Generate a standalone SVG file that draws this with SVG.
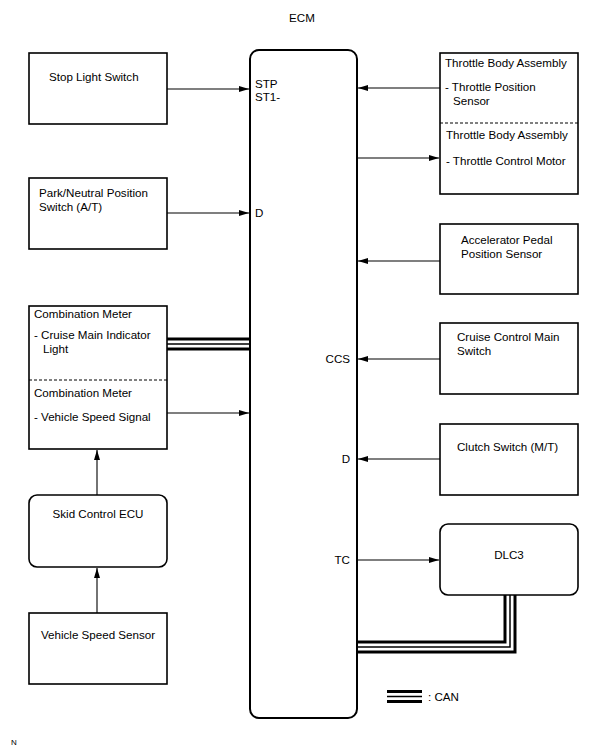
<svg xmlns="http://www.w3.org/2000/svg" width="605" height="749" viewBox="0 0 605 749">
<defs>
<marker id="ah" viewBox="0 0 10 6" refX="10" refY="3" markerWidth="10" markerHeight="6" markerUnits="userSpaceOnUse" orient="auto">
<path d="M0,0 L10,3 L0,6 Z" fill="#000"/>
</marker>
</defs>
<style>
text{font-family:"Liberation Sans",Arial,sans-serif;font-size:11.6px;fill:#000}
.box{fill:#fff;stroke:#000;stroke-width:1.6}
.ecm{fill:#fff;stroke:#000;stroke-width:2}
.wire{fill:none;stroke:#000;stroke-width:1.1;marker-end:url(#ah)}
.dash{stroke:#000;stroke-width:1;stroke-dasharray:3,2}
.c1{fill:none;stroke:#000;stroke-width:13}
.c2{fill:none;stroke:#fff;stroke-width:7}
.c3{fill:none;stroke:#000;stroke-width:1.5}
</style>
<rect width="605" height="749" fill="#fff"/>
<g id="connectors">
<line class="wire" x1="167" y1="89" x2="249" y2="89"/>
<line class="wire" x1="167" y1="213" x2="249" y2="213"/>
<line class="wire" x1="167" y1="413" x2="249" y2="413"/>
<line class="wire" x1="440" y1="88" x2="358" y2="88"/>
<line class="wire" x1="357" y1="158" x2="439" y2="158"/>
<line class="wire" x1="440" y1="261" x2="358" y2="261"/>
<line class="wire" x1="440" y1="359" x2="358" y2="359"/>
<line class="wire" x1="440" y1="459" x2="358" y2="459"/>
<line class="wire" x1="357" y1="560" x2="439" y2="560"/>
<line class="wire" x1="97" y1="495" x2="97" y2="450"/>
<line class="wire" x1="97" y1="613" x2="97" y2="568"/>
<g id="can-meter">
<path class="c1" d="M167,344 H250"/>
<path class="c2" d="M167,344 H250"/>
<path class="c3" d="M167,344 H250"/>
</g>
<g id="can-dlc3">
<path class="c1" d="M357,647 H510 V595"/>
<path class="c2" d="M357,647 H510 V595"/>
<path class="c3" d="M357,647 H510 V595"/>
</g>
<g id="legend">
<path class="c1" d="M387,696.5 H422"/>
<path class="c2" d="M387,696.5 H422"/>
<path class="c3" d="M387,696.5 H422"/>
<text x="428" y="701">: CAN</text>
</g>
</g>
<g id="ecm">
<text x="302" y="22" text-anchor="middle">ECM</text>
<rect class="ecm" x="250" y="50" width="107" height="668" rx="9"/>
<text x="255" y="88">STP</text>
<text x="255" y="101">ST1-</text>
<text x="255" y="217">D</text>
<text x="350" y="363" text-anchor="end">CCS</text>
<text x="350" y="463" text-anchor="end">D</text>
<text x="350" y="564" text-anchor="end">TC</text>
</g>
<g id="stop-light-switch">
<rect class="box" x="29" y="53" width="138" height="71"/>
<text x="49" y="81">Stop Light Switch</text>
</g>
<g id="park-neutral">
<rect class="box" x="29" y="178" width="138" height="71"/>
<text x="39" y="197">Park/Neutral Position</text>
<text x="39" y="211">Switch (A/T)</text>
</g>
<g id="combination-meter">
<rect class="box" x="29" y="306" width="138" height="143"/>
<line class="dash" x1="29" y1="380" x2="167" y2="380"/>
<text x="34" y="318">Combination Meter</text>
<text x="34" y="339">-  Cruise Main Indicator</text>
<text x="43" y="353">Light</text>
<text x="34" y="397">Combination Meter</text>
<text x="34" y="421">-  Vehicle Speed Signal</text>
</g>
<g id="skid-control-ecu">
<rect class="box" x="29" y="495" width="138" height="72" rx="8"/>
<text x="98" y="518" text-anchor="middle">Skid Control ECU</text>
</g>
<g id="vehicle-speed-sensor">
<rect class="box" x="29" y="613" width="138" height="71"/>
<text x="98" y="639" text-anchor="middle">Vehicle Speed Sensor</text>
</g>
<g id="throttle-body">
<rect class="box" x="440" y="53" width="138" height="141"/>
<line class="dash" x1="440" y1="123" x2="578" y2="123"/>
<text x="445" y="67">Throttle Body Assembly</text>
<text x="445" y="91">-  Throttle Position</text>
<text x="453" y="105">Sensor</text>
<text x="446" y="139">Throttle Body Assembly</text>
<text x="446" y="165">-  Throttle Control Motor</text>
</g>
<g id="accelerator-pedal">
<rect class="box" x="440" y="224" width="138" height="70"/>
<text x="461" y="244">Accelerator Pedal</text>
<text x="461" y="258">Position Sensor</text>
</g>
<g id="cruise-control-main-switch">
<rect class="box" x="440" y="323" width="138" height="71"/>
<text x="457" y="341">Cruise Control Main</text>
<text x="457" y="355">Switch</text>
</g>
<g id="clutch-switch">
<rect class="box" x="440" y="424" width="138" height="71"/>
<text x="457" y="451">Clutch Switch (M/T)</text>
</g>
<g id="dlc3">
<rect class="box" x="440" y="524" width="138" height="71" rx="8"/>
<text x="509" y="559" text-anchor="middle">DLC3</text>
</g>
<text x="11" y="745" style="font-size:8px">N</text>
</svg>
